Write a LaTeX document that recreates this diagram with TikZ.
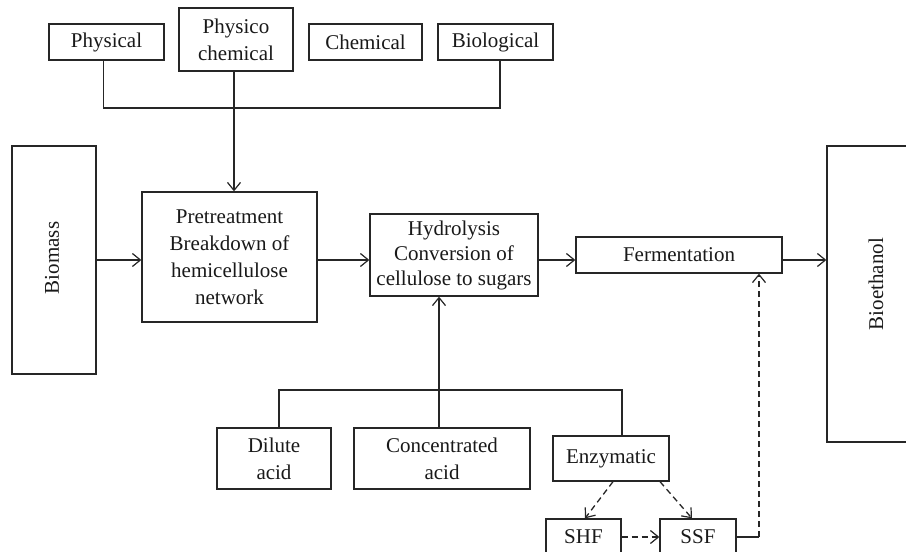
\documentclass[tikz,border=0pt]{standalone}
\usepackage{fontspec}
\setmainfont{Liberation Serif}
\usetikzlibrary{arrows.meta,calc}
\begin{document}
\begin{tikzpicture}[x=1pt,y=-1pt,
  every node/.style={font=\fontsize{21}{27}\selectfont, text=black!90},
  blk/.style={draw=black!85, line width=1.3pt, align=center, inner sep=0pt, fill=white},
  conn/.style={draw=black!85, line width=1.3pt},
  arr/.style={conn, -{Straight Barb[length=8pt,width=13pt,line width=1.2pt]}},
  dsh/.style={dash pattern=on 6pt off 4pt}]
\useasboundingbox (0,0) rectangle (906,552);
\clip (0,0) rectangle (906,552);
% pretreatment categories
\node[blk, minimum width=115, minimum height=36] (phys) at (106.5,42) {Physical};
\node[blk, minimum width=114, minimum height=63] (physchem) at (236,39.5) {Physico\\chemical};
\node[blk, minimum width=113, minimum height=36] (chem) at (365.5,42) {Chemical};
\node[blk, minimum width=115, minimum height=36] (bio) at (495.5,42) {Biological};
% main process chain
\node[blk, minimum width=84, minimum height=228] (biomass) at (54,260) {};
\node[rotate=90] (biomasstxt) at (52,258) {Biomass};
\node[blk, minimum width=175, minimum height=130] (pre) at (229.5,257)
  {Pretreatment\\Breakdown of\\hemicellulose\\network};
\node[blk, minimum width=168, minimum height=82, font=\fontsize{21}{25}\selectfont] (hyd) at (454,255)
  {Hydrolysis\\Conversion of\\cellulose to sugars};
\node[blk, minimum width=206, minimum height=36] (ferm) at (679,255) {Fermentation};
\node[blk, minimum width=94, minimum height=296] (bioeth) at (874,294) {};
\node[rotate=90] (bioethtxt) at (876,284) {Bioethanol};
% hydrolysis routes
\node[blk, minimum width=114, minimum height=61] (dil) at (274,458.5) {Dilute\\acid};
\node[blk, minimum width=176, minimum height=61] (conc) at (442,458.5) {Concentrated\\acid};
\node[blk, minimum width=116, minimum height=45] (enz) at (611,458.5) {Enzymatic};
\node[blk, minimum width=75, minimum height=36] (shf) at (583.5,537) {SHF};
\node[blk, minimum width=76, minimum height=36] (ssf) at (698,537) {SSF};
% junctions
\coordinate (jtop) at (234,108);
\coordinate (jbot) at (439,390);
\coordinate (jssf) at (759,537);
% category tree into pretreatment
\draw[conn] ($(phys.south)+(-3,0)$) |- (jtop);
\draw[conn] ($(bio.south)+(4.5,0)$) |- (jtop);
\draw[conn] ($(chem.south)+(4.5,0)$) -- ($(chem.south)+(4.5,0)$ |- jtop);
\draw[conn] ($(physchem.south)+(-2,0)$) -- (jtop);
\draw[arr] (jtop) -- (jtop |- pre.north);
% main flow
\draw[arr] (biomass.east) -- (pre.west |- biomass.east);
\draw[arr] (pre.east |- biomass.east) -- (hyd.west |- biomass.east);
\draw[arr] (hyd.east |- biomass.east) -- (ferm.west |- biomass.east);
\draw[arr] (ferm.east |- biomass.east) -- (bioeth.west |- biomass.east);
% hydrolysis route tree
\draw[conn] ($(dil.north)+(5,0)$) |- (jbot);
\draw[conn] ($(enz.north)+(11,0)$) |- (jbot);
\draw[arr] (jbot |- conc.north) -- (jbot |- hyd.south);
% enzymatic variants
\draw[arr, dsh] ($(enz.south)+(2,0)$) -- ($(shf.north)+(1.5,0)$);
\draw[arr, dsh] ($(enz.south)+(49,0)$) -- ($(ssf.north)+(-6,0)$);
\draw[arr, dsh] (shf.east) -- (ssf.west);
\draw[conn] (ssf.east) -- (jssf);
\draw[arr, dsh] (jssf) -- (jssf |- ferm.south);
\end{tikzpicture}
\end{document}
